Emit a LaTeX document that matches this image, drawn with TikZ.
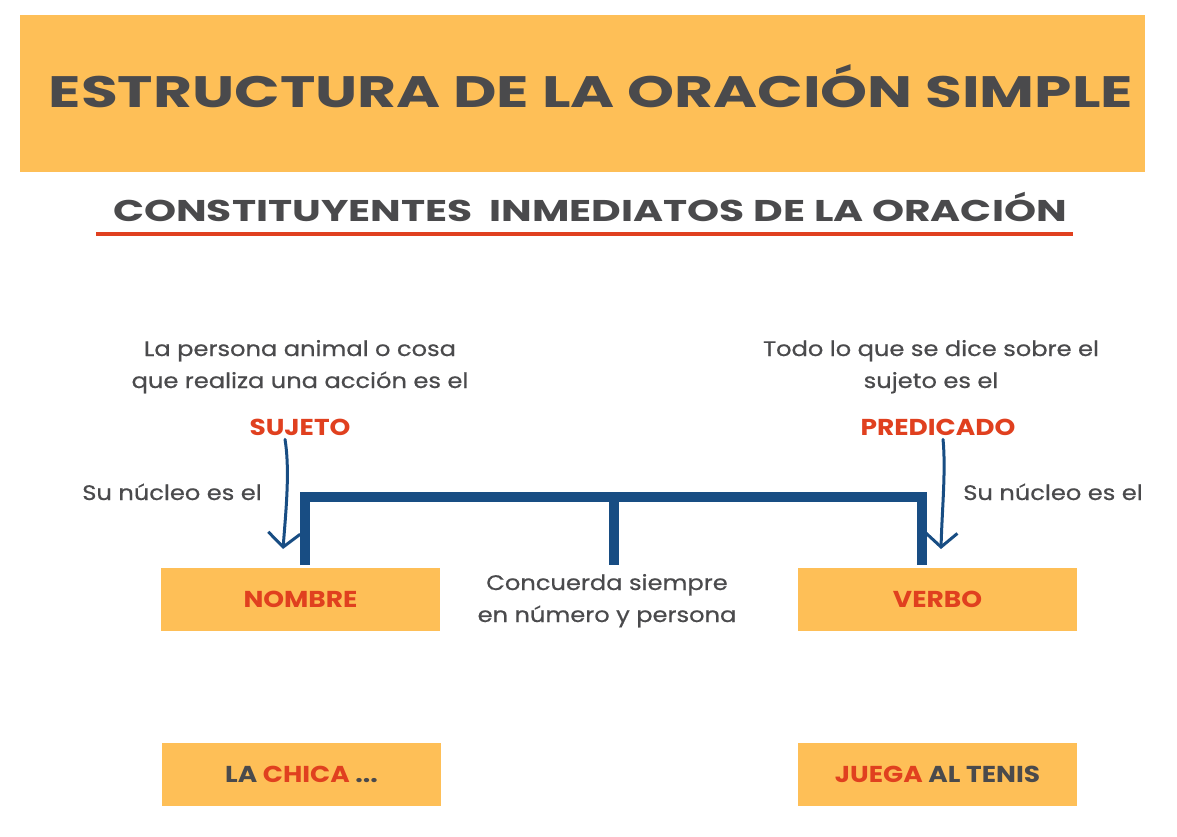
\documentclass[tikz,border=0pt]{standalone}
\usepackage{fontspec}
\setmainfont{Poppins}[FakeStretch=1.15,UprightFeatures={FakeBold=0.6}]
\newfontfamily\fuentetitulo{Poppins}[FakeStretch=1.36]
\usetikzlibrary{arrows.meta}
\definecolor{naranja}{HTML}{FEBF57}
\definecolor{gris}{HTML}{4A4A4C}
\definecolor{rojo}{HTML}{E0401F}
\definecolor{azul}{HTML}{184D83}
\tikzset{
  caja/.style={fill=naranja,minimum width=279pt,minimum height=63pt,inner sep=0pt,
    text=rojo,font=\bfseries\fontsize{23}{27}\selectfont},
  texto/.style={text=gris,align=center,anchor=base,inner sep=0pt,
    font=\fontsize{21}{32}\selectfont},
  clave/.style={text=rojo,anchor=base,inner sep=0pt,font=\bfseries\fontsize{23}{27}\selectfont},
  flecha/.style={draw=azul,line width=3pt,line cap=round,
    -{Straight Barb[length=14pt,width=32pt,line width=3pt]}},
}
\begin{document}
\begin{tikzpicture}[x=1pt,y=-1pt,line join=miter]
\useasboundingbox (0,0) rectangle (1177,837);
% cabecera
\node[fill=naranja,minimum width=1125pt,minimum height=157pt,inner sep=0pt] (cabecera) at (582.5,93.5) {};
\node[anchor=base,inner sep=0pt,text=gris,font=\fuentetitulo\bfseries\fontsize{44}{50}\selectfont]
  (titulo) at (591,108) {ESTRUCTURA DE LA ORACIÓN SIMPLE};
\node[anchor=base,inner sep=0pt,text=gris,font=\fuentetitulo\bfseries\fontsize{30}{36}\selectfont]
  (subtitulo) at (590,222) {CONSTITUYENTES\ \ INMEDIATOS DE LA ORACIÓN};
\draw[rojo,line width=4pt] (96,234) -- (1073,234);
% sujeto y predicado
\node[texto] (defsuj) at (300,388) {La persona animal o cosa\\que realiza una acción es el};
\node[clave] (sujeto) at (300,435) {SUJETO};
\node[texto] (defpred) at (931,388) {Todo lo que se dice sobre el\\sujeto es el};
\node[clave] (predicado) at (938,435) {PREDICADO};
\node[texto] (nucsuj) at (172,500) {Su núcleo es el};
\node[texto] (nucpred) at (1053,500) {Su núcleo es el};
% cajas
\node[caja] (nombre) at (300.5,599) {NOMBRE};
\node[caja] (verbo) at (937.5,599) {VERBO};
\node[texto] (concuerda) at (607,622) {Concuerda siempre\\en número y persona};
\node[caja,text=gris] (chica) at (301.5,774.5) {LA \textcolor{rojo}{CHICA} ...};
\node[caja,text=gris] (juega) at (937.5,774.5) {\textcolor{rojo}{JUEGA} AL TENIS};
% corchete
\draw[azul,line width=10pt] (305,565) -- (305,497) -- (922,497) -- (922,565);
\draw[azul,line width=10pt] (614,497) -- (614,565);
% flechas
\coordinate (finsuj) at (283,549);
\coordinate (finpred) at (941,549);
\draw[flecha] (sujeto.south -| 285,0) ++(0,4) .. controls (290,470) and (286,510) .. (finsuj);
\draw[flecha] (predicado.south -| 943,0) ++(0,4) .. controls (946,470) and (942,510) .. (finpred);
\end{tikzpicture}
\end{document}
